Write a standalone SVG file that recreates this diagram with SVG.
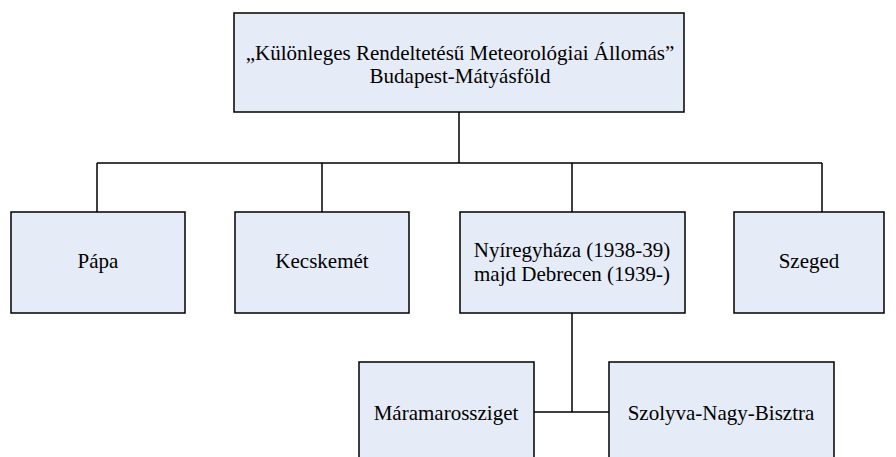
<svg xmlns="http://www.w3.org/2000/svg" width="896" height="457" viewBox="0 0 896 457">
<style>
.box{fill:#e6ecf7;stroke:#000;stroke-width:1.5}
.t{font-family:'Liberation Serif','Times New Roman','DejaVu Serif',serif;font-size:21px;fill:#000;text-anchor:middle}
.c{fill:none;stroke:#000;stroke-width:1.5}
</style>
<rect width="896" height="457" fill="#fff"/>
<g id="connectors">
<path class="c" d="M459 112V163M97 163H822M97 163V212M322 163V212M572 163V212M822 163V212M572 313V412M534 412H609"/>
</g>
<g id="root">
<rect class="box" x="234" y="13" width="450" height="99"/>
<text class="t" x="460" y="60">„Különleges Rendeltetésű Meteorológiai Állomás”</text>
<text class="t" x="460" y="83">Budapest-Mátyásföld</text>
</g>
<g id="papa">
<rect class="box" x="11" y="212" width="174" height="101"/>
<text class="t" x="98" y="268">Pápa</text>
</g>
<g id="kecskemet">
<rect class="box" x="235" y="212" width="174" height="101"/>
<text class="t" x="322" y="268">Kecskemét</text>
</g>
<g id="nyiregyhaza">
<rect class="box" x="460" y="212" width="225" height="101"/>
<text class="t" x="572" y="257">Nyíregyháza (1938-39)</text>
<text class="t" x="572" y="281">majd Debrecen (1939-)</text>
</g>
<g id="szeged">
<rect class="box" x="734" y="212" width="150" height="101"/>
<text class="t" x="809" y="268">Szeged</text>
</g>
<g id="maramarossziget">
<rect class="box" x="359" y="362" width="175" height="110"/>
<text class="t" x="446" y="420">Máramarossziget</text>
</g>
<g id="szolyva">
<rect class="box" x="609" y="362" width="225" height="110"/>
<text class="t" x="721" y="420">Szolyva-Nagy-Bisztra</text>
</g>
</svg>
